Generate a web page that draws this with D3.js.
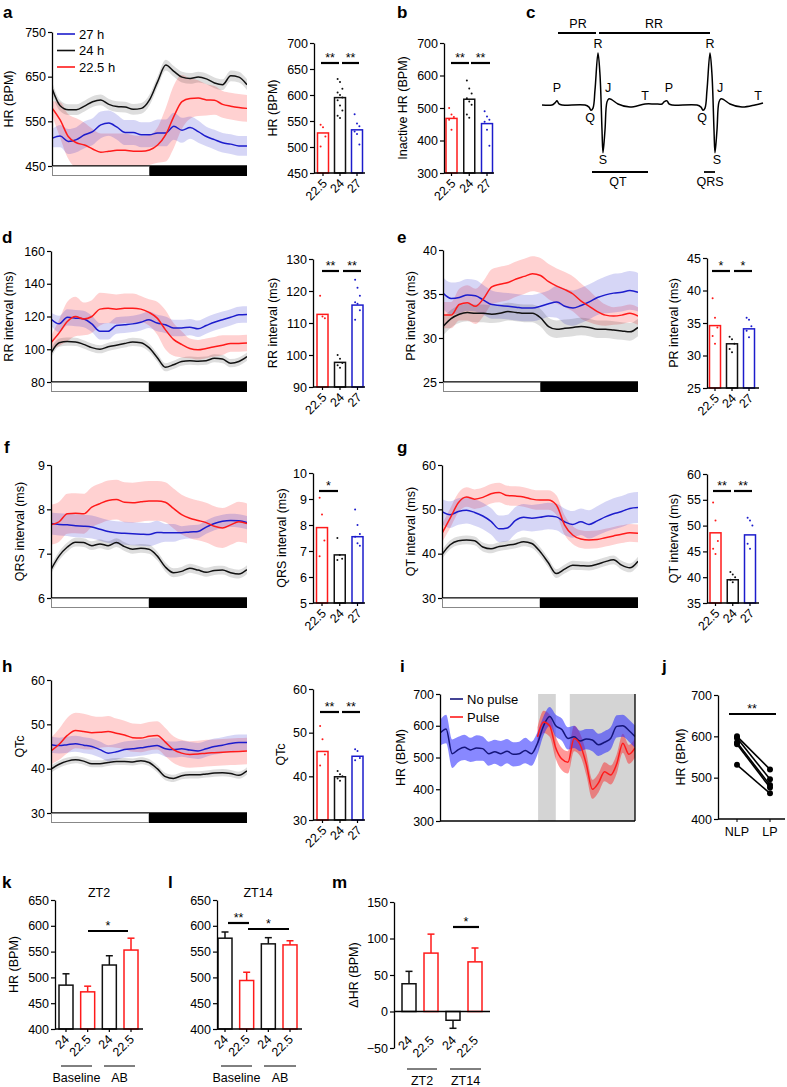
<!DOCTYPE html>
<html><head><meta charset="utf-8">
<script src="https://cdn.jsdelivr.net/npm/d3@7"></script>
<style>body{margin:0;background:#fff}svg text{font-family:"Liberation Sans",Arial,Helvetica,sans-serif}</style>
</head><body>
<svg id="fig" width="787" height="1087"></svg>
<script>
// ---------- DATA ----------
const hours = [0,1,2,3,4,5,6,7,8,9,10,11,12,13,14,15,16,17,18,19,20,21,22,23,24];
const groupLabels = ["22.5","24","27"];
const legendA = ["27 h","24 h","22.5 h"];

// panel a: HR (BPM)
const aRed   = [580,553,516,502,497,488,481,483,485,485,483,483,486,497,520,561,594,601,602,598,597,588,584,581,579];
const aRedSem= [15,40,50,55,50,45,42,40,38,38,36,34,34,40,60,70,60,45,40,35,32,30,30,30,30];
const aBlack = [624,585,576,576,584,594,598,588,583,582,577,579,598,639,676,662,649,646,649,645,636,632,652,649,632];
const aBlackSem=[15,12,12,12,12,12,12,12,12,12,12,12,12,12,12,12,12,12,12,12,12,12,12,12,12];
const aBlue  = [512,517,505,509,520,527,542,546,537,525,525,520,520,524,524,539,530,536,527,516,509,502,499,495,495];
const aBlueSem=[20,25,28,28,30,30,30,28,28,28,28,28,28,30,30,30,28,25,25,22,22,22,22,22,22];
const aBarVals = [527,595,533];
const aBarDots = [[543,538,520,501],[631,625,612,605,600,595,590,580,570,560,556],[563,545,540,530,525,505]];
// panel b: inactive HR
const bBarVals = [468,527,452];
const bBarDots = [[500,480,472,464,433],[585,560,545,530,520,510,480,470],[490,474,464,458,433,384]];
// panel d: RR interval
const dRed   = [104,110,117,120,118.5,120,124.5,125,124.5,125,125,124.5,122.5,119,112,106,103,100.5,99.7,100.5,101.5,102.5,103.5,103.5,103.8];
const dRedSem= [4,8,12,12,10,10,10,9,9,9,9,8,8,10,12,10,8,6,6,6,6,6,5,5,5];
const dBlack = [97.6,104,104.7,104.5,103,101,100,101.5,102.5,103.5,104.5,104,101,95,89,90.5,92.5,93,92.7,93,94.5,94,91.5,92.5,95.5];
const dBlackSem=[3,2.5,2.5,2.5,2.5,2.5,2.5,2.5,2.5,2.5,2.5,2.5,2.5,2.5,2.5,2.5,2.5,2.5,2.5,2.5,2.5,2.5,2.5,2.5,2.5];
const dBlue  = [118.5,115.5,119.5,119,118.5,115.5,111,111,114.5,115,115.5,116.5,118,116,115,113,113,113.5,112.5,114.5,116.5,118,119.5,121,121.2];
const dBlueSem=[4,5,5,5,5,5,5,5,5,5,5,5,5,5,5,5,5,5,5,5,5,5,5,5,5];
const dBarVals = [112.7,97.7,115.6];
const dBarDots = [[118.5,112,111.5],[100,98.8,97.5,96.8,96],[123.5,121,118.5,116.5,116,114,111]];
// panel e: PR interval
const eRed   = [32.6,32.6,33.8,34,33.6,34.5,35.8,36.1,36.3,36.7,37,37.3,37.1,36.4,35.9,35.5,35,34.2,33.6,33,32.6,32.5,32.6,32.8,32.5];
const eRedSem= [1.5,1.5,1.8,2,2,2,2,2,2,2,2,2,2,2,2,2,2,2,1.8,1.5,1.2,1,1,1,1];
const eBlack = [31.3,32.2,32.7,32.9,32.8,32.8,32.7,32.8,33,32.9,32.8,32.8,32.3,31.3,31,31.1,31.2,31.3,31.2,31,31,30.9,30.8,30.7,31.2];
const eBlackSem=[1,1,1,1,1,1,1,1,1,1,1,1,1,1,1,1,1,1,1,1,1,1,1,1,1];
const eBlue  = [35.1,34.5,34.6,34.9,34.8,34.3,33.8,33.7,33.6,33.5,33.4,33.4,33.6,33.9,34.1,33.6,33.4,33.7,34.1,34.6,34.9,35.1,35.2,35.4,35.2];
const eBlueSem=[1.8,1.8,1.8,1.8,1.8,1.7,1.6,1.5,1.5,1.5,1.5,1.5,1.5,1.5,1.8,2,2,2,2,2,2.1,2.2,2.2,2.2,2.2];
const eBarVals = [34.6,31.8,34.1];
const eBarDots = [[38.8,35.8,34.3,33,31.8],[32.9,32.5,31.8,31,30.5],[35.8,35.5,34.5,33.8,32.8]];
// panel f: QRS interval
const fRed   = [7.65,7.72,7.9,7.91,7.9,8.05,8.13,8.2,8.22,8.16,8.15,8.17,8.19,8.19,8.16,8.02,7.88,7.8,7.75,7.7,7.62,7.58,7.65,7.72,7.68];
const fRedSem= [0.45,0.45,0.45,0.45,0.45,0.45,0.45,0.45,0.45,0.45,0.45,0.45,0.45,0.45,0.45,0.45,0.45,0.45,0.45,0.45,0.45,0.45,0.45,0.45,0.45];
const fBlack = [6.64,6.95,7.15,7.26,7.25,7.18,7.22,7.18,7.25,7.16,7.1,7.12,7.1,6.95,6.7,6.57,6.6,6.67,6.63,6.58,6.62,6.63,6.57,6.54,6.64];
const fBlackSem=[0.1,0.1,0.1,0.1,0.1,0.1,0.1,0.1,0.1,0.1,0.1,0.1,0.1,0.1,0.1,0.1,0.1,0.1,0.1,0.1,0.1,0.1,0.1,0.1,0.1];
const fBlue  = [7.68,7.66,7.65,7.63,7.62,7.6,7.55,7.5,7.47,7.46,7.45,7.44,7.43,7.48,7.47,7.47,7.47,7.49,7.5,7.6,7.68,7.73,7.75,7.74,7.7];
const fBlueSem=[0.25,0.25,0.25,0.26,0.26,0.26,0.26,0.26,0.26,0.26,0.26,0.26,0.26,0.26,0.2,0.2,0.15,0.15,0.15,0.15,0.15,0.15,0.15,0.15,0.15];
const fBarVals = [7.9,6.85,7.55];
const fBarDots = [[9.05,8.4,7.4,6.8],[7.5,6.85,6.7,6.65],[8.6,8.0,7.65,7.55,7.3,7.2]];
// panel g: QT interval
const gRed   = [44.6,48,51.5,52.8,52.3,52.7,53.5,53.8,53.1,53,52.8,52.3,52.1,52.1,51,46.5,44.2,43.3,43.1,43.2,43.6,44,44.4,44.7,44.6];
const gRedSem= [2,2.2,2.2,2.2,2.2,2.2,2.2,2.2,2.2,2.2,2.2,2.2,2.2,2.2,2.2,2.2,2,2,2,2,2,2,2,2,2];
const gBlack = [39.8,42,42.9,43.1,42.9,41.5,41.1,41.6,41.9,42.2,42.7,42.3,40.5,38,35.5,36.5,37.4,37.3,37.2,37.6,38.2,38.6,37.4,36.8,38.3];
const gBlackSem=[1,1,1,1,1,1,1,1,1,1,1,1,1,1,1,1,1,1,1,1,1,1,1,1,1];
const gBlue  = [49.5,48.8,49.5,49.8,49.3,48.5,47.3,45.6,45.8,47.5,48.2,48,48.2,48.5,48.3,47.2,46.6,47.2,46.6,47.4,48.3,49,49.5,50.2,50.4];
const gBlueSem=[2.8,3,3,3,3,3,3,3,3,3,3,3,3,3,3,3,3,3,3.2,3.3,3.4,3.5,3.5,3.5,3.5];
const gBarVals = [48.6,39.5,48.2];
const gBarDots = [[54.5,51,47,45.5,44.5],[41,40.5,40,39.5,39],[51.5,51,50,46.5,45.5]];
// panel h: QTc
const hRed   = [44,45.5,47.5,48.6,48.4,48.1,48.2,48.4,48,47.6,47,46.9,47.3,47.5,46,44.3,43.5,43.2,43.3,43.5,43.6,43.7,43.8,43.9,44];
const hRedSem= [3,3.5,4,4,4,3.8,3.5,3.5,3.3,3.2,3.2,3.2,3.2,3.2,3.2,3,3,3,3,3,3,3,3,3,3];
const hBlack = [39.9,41,41.7,42,41.7,41.1,41.1,41.4,41.6,41.6,41.5,41.8,41.4,40,38.2,37.8,38.4,38.6,38.6,38.8,39,39.1,38.9,38.5,39.5];
const hBlackSem=[0.8,0.8,0.8,0.8,0.8,0.8,0.8,0.8,0.8,0.8,0.8,0.8,0.8,0.8,0.8,0.8,0.8,0.8,0.8,0.8,0.8,0.8,0.8,0.8,0.8];
const hBlue  = [45.4,45.2,45.4,45.6,45.3,45,44.3,43.5,43.8,44.3,44.5,44.7,45,45.2,44.5,44.3,44.5,44.2,44,44.5,45,45.3,45.7,45.9,45.9];
const hBlueSem=[1.8,1.8,1.8,1.8,1.8,1.8,1.8,1.8,1.8,1.8,1.8,1.8,1.8,1.8,1.8,1.8,1.8,1.8,1.8,1.8,1.8,1.8,1.8,1.8,1.8];
const hBarVals = [45.7,39.9,44.6];
const hBarDots = [[51.5,48.5,45,42.5],[41.2,40.5,40,39.5,39],[46.2,45.8,44.2,43.7]];
// panel i
const iIdx = [0,1,2,3,4,5,6,7,8,9,10,11,12,13,14,15,16,17,18,19,20,21,22,23,24,25,26,27,28,29,30,31,32];
const iNoPulse = [577,590,512,525,532,524,530,528,512,518,512,520,510,512,522,512,545,600,629,600,588,560,565,552,558,555,540,548,560,598,600,585,566];
const iNoPulseSem = [40,45,45,40,40,38,40,38,38,38,40,38,38,38,40,38,35,30,30,35,35,35,35,32,32,35,35,35,35,35,35,35,35];
const iPulse = [null,null,null,null,null,null,null,null,null,null,null,null,null,null,null,null,565,612,600,530,495,485,560,540,480,400,420,455,445,480,545,510,530];
const iPulseSem = [null,null,null,null,null,null,null,null,null,null,null,null,null,null,null,null,30,35,35,35,35,35,40,35,35,30,30,30,30,30,30,30,30];
const iShade = [[16.1,19],[21.3,32]];
const iLegend = ["No pulse","Pulse"];
// panel j
const jCats = ["NLP","LP"];
const jNLP = [600,596,585,581,531];
const jLP  = [520,496,482,476,462];
// panels k, l, m
const klmLabels = ["24","22.5","24","22.5"];
const kVals = [485,472,524,553]; const kSem = [22,11,18,23];
const lVals = [576,494,565,563]; const lSem = [12,16,12,8];
const mVals = [38,80,-12,68];    const mSem = [17,26,11,19];
// panel c: ECG schematic (time units, amplitude)
const ecgT = [0,10,13,15,17,20,43,47,49,51,53,56,58,60,61,63,65,67,70,76,88,103,113,120,122,125,127,130,155,159,161,163,165,168,170,172,173,175,177,179,182,188,200,213,221];
const ecgV = [0,0,0.04,0.08,0.02,0,0,-0.04,-0.1,-0.06,0.29,1,0.58,-0.48,-0.92,-0.48,0.06,0.12,0.1,0.02,-0.04,0.02,0.02,0.02,0.06,0.08,0.02,0,0,-0.04,-0.1,-0.06,0.29,1,0.58,-0.48,-0.92,-0.48,0.06,0.12,0.1,0.02,-0.04,0,0.04];

// ---------- DRAWING ----------
const RED="#ff1a1a", BLUE="#1c1ccc", BLACK="#111111";
const FS=12.5;
const svg=d3.select("#fig");

function txt(g,x,y,s,opt={}){
  const t=g.append("text").attr("x",x).attr("y",y).text(s).attr("font-size",opt.fs||FS).attr("fill","#000");
  if(opt.anchor) t.attr("text-anchor",opt.anchor);
  if(opt.bold) t.attr("font-weight","bold");
  return t;
}
function vlabel(g,x,y,s){
  g.append("text").attr("transform",`translate(${x},${y}) rotate(-90)`).attr("text-anchor","middle").attr("font-size",FS).text(s);
}
function yAxis(g,scale,x,ticks){
  const a=g.append("g").attr("transform",`translate(${x},0)`)
    .call(d3.axisLeft(scale).tickValues(ticks).tickSize(4).tickSizeOuter(0).tickPadding(2)
      .tickFormat(d=>d<0?"\u2212"+Math.abs(d):d));
  a.attr("font-family",null).attr("font-size",FS);
  a.select(".domain").attr("stroke","#000").attr("stroke-width",1.3);
  a.selectAll(".tick line").attr("stroke","#000").attr("stroke-width",1.2);
  a.selectAll(".tick text").attr("fill","#000");
  return a;
}
function letter(x,y,s){ txt(svg,x,y,s,{fs:17,bold:true}); }

let clipId=0;
function tsPanel(o){
  const g=svg.append("g");
  const x=d3.scaleLinear().domain([o.xs[0],o.xs[o.xs.length-1]]).range([o.x0,o.x1]);
  const y=d3.scaleLinear().domain(o.domain).range([o.yb,o.yt]);
  const id="clip"+(clipId++);
  svg.append("clipPath").attr("id",id).append("rect").attr("x",o.x0).attr("y",o.yt-10).attr("width",o.x1-o.x0).attr("height",o.yb-o.yt+10);
  if(o.shade) o.shade.forEach(r=>g.append("rect").attr("x",x(r[0])).attr("y",o.yt).attr("width",x(r[1])-x(r[0])).attr("height",o.yb-o.yt).attr("fill","#d4d4d4"));
  const pg=g.append("g").attr("clip-path",`url(#${id})`);
  o.series.forEach(s=>{
    const area=d3.area().defined((d,i)=>s.m[i]!=null)
      .x((d,i)=>x(o.xs[i])).y0((d,i)=>y(s.m[i]-s.s[i])).y1((d,i)=>y(s.m[i]+s.s[i])).curve(d3.curveMonotoneX);
    pg.append("path").attr("d",area(o.xs)).attr("fill",s.band||s.c).attr("opacity",s.op||0.2);
  });
  o.series.slice().reverse().forEach(s=>{
    const line=d3.line().defined((d,i)=>s.m[i]!=null).x((d,i)=>x(o.xs[i])).y((d,i)=>y(s.m[i])).curve(d3.curveMonotoneX);
    pg.append("path").attr("d",line(o.xs)).attr("fill","none").attr("stroke",s.lc||s.c).attr("stroke-width",1.5);
  });
  yAxis(g,y,o.x0,o.ticks);
  g.append("line").attr("x1",o.x0).attr("x2",o.x1).attr("y1",o.yb).attr("y2",o.yb).attr("stroke","#000").attr("stroke-width",1.4);
  if(o.dayNight){
    const xm=x((o.xs[0]+o.xs[o.xs.length-1])/2);
    g.append("rect").attr("x",o.x0+0.5).attr("y",o.yb+0.5).attr("width",xm-o.x0-0.5).attr("height",9).attr("fill","#fff").attr("stroke","#888").attr("stroke-width",1);
    g.append("rect").attr("x",xm).attr("y",o.yb).attr("width",o.x1-xm).attr("height",10).attr("fill","#000");
  }
  if(o.rightBorder) g.append("line").attr("x1",o.x1).attr("x2",o.x1).attr("y1",o.yt).attr("y2",o.yb).attr("stroke","#000").attr("stroke-width",1.3);
  vlabel(g,o.lx,(o.yt+o.yb)/2,o.label);
  return g;
}

function sig(g,x1,x2,yy,s){
  g.append("line").attr("x1",x1).attr("x2",x2).attr("y1",yy).attr("y2",yy).attr("stroke","#000").attr("stroke-width",2.2);
}
function sigText(g,x,yy,s){ txt(g,x,yy,s,{anchor:"middle",fs:12.5}); }

function barPanel(o){
  const g=svg.append("g");
  const y=d3.scaleLinear().domain(o.domain).range([o.yb,o.yt]);
  const x=d3.scalePoint().domain(groupLabels).range(o.cx);
  const colors=[RED,BLACK,BLUE];
  o.vals.forEach((v,i)=>{
    const cx=x(groupLabels[i]);
    g.append("rect").attr("x",cx-o.w/2).attr("y",y(v)).attr("width",o.w).attr("height",o.yb-y(v))
      .attr("fill","#fff").attr("stroke",colors[i]).attr("stroke-width",1.5);
    o.dots[i].forEach((d,j)=>g.append("circle").attr("cx",cx+((j%3)-1)*2.4).attr("cy",y(d)).attr("r",1).attr("fill",colors[i]));
  });
  yAxis(g,y,o.ax,o.ticks);
  g.append("line").attr("x1",o.ax).attr("x2",o.axEnd).attr("y1",o.yb).attr("y2",o.yb).attr("stroke","#000").attr("stroke-width",1.3);
  groupLabels.forEach(c=>{
    const cx=x(c);
    g.append("line").attr("x1",cx).attr("x2",cx).attr("y1",o.yb).attr("y2",o.yb+3).attr("stroke","#000").attr("stroke-width",1.2);
    g.append("text").attr("transform",`translate(${cx+5},${o.yb+11}) rotate(-45)`).attr("text-anchor","end").attr("font-size",FS).text(c);
  });
  o.sig.forEach(s=>{ sig(g,s[0],s[1],o.sigY); sigText(g,(s[0]+s[1])/2,o.sigY-1,s[2]); });
  vlabel(g,o.lx,(o.yt+o.yb)/2,o.label);
}

// a
letter(3,18,"a");
const ga=tsPanel({xs:hours,x0:52,x1:247,yt:32,yb:166,domain:[450,750],ticks:[450,550,650,750],label:"HR (BPM)",lx:13,dayNight:true,
  series:[{m:aRed,s:aRedSem,c:RED},{m:aBlue,s:aBlueSem,c:BLUE,op:0.18},{m:aBlack,s:aBlackSem,c:BLACK,op:0.14}]});
[BLUE,BLACK,RED].forEach((c,i)=>{
  const yy=34+i*16.5;
  ga.append("line").attr("x1",57).attr("x2",75).attr("y1",yy).attr("y2",yy).attr("stroke",c).attr("stroke-width",1.6);
  txt(ga,79,yy+4.5,legendA[i],{fs:13});
});
barPanel({ax:314,axEnd:365,yb:173,yt:43,domain:[450,700],ticks:[450,500,550,600,650,700],cx:[323,357],w:11,
  vals:aBarVals,dots:aBarDots,sigY:63,sig:[[321,339,"**"],[342,359,"**"]],label:"HR (BPM)",lx:277});
// b
letter(397,18,"b");
barPanel({ax:444,axEnd:494,yb:173,yt:43,domain:[300,700],ticks:[300,400,500,600,700],cx:[451.5,487],w:11,
  vals:bBarVals,dots:bBarDots,sigY:63,sig:[[451,469,"**"],[471,490,"**"]],label:"Inactive HR (BPM)",lx:407});
// c
letter(526,18,"c");
{
  const g=svg.append("g");
  const ex=d3.scaleLinear().domain([0,221]).range([542,763]);
  const ey=d3.scaleLinear().domain([0,1]).range([105,53]);
  const line=d3.line().x((d,i)=>ex(ecgT[i])).y((d,i)=>ey(ecgV[i])).curve(d3.curveCatmullRom.alpha(0.5));
  g.append("path").attr("d",line(ecgT)).attr("fill","none").attr("stroke","#000").attr("stroke-width",1.5);
  const seg=(a,b,yy)=>g.append("line").attr("x1",ex(a)).attr("x2",ex(b)).attr("y1",yy).attr("y2",yy).attr("stroke","#000").attr("stroke-width",1.8);
  seg(16,54,33); seg(57,168,33); seg(50,106,172); seg(162,173,172);
  txt(g,ex(36),28,"PR",{anchor:"middle"}); txt(g,ex(112),28,"RR",{anchor:"middle"});
  [[56,48,"R"],[15,92,"P"],[66,92,"J"],[103,100,"T"],[48,122,"Q"],[61,164,"S"],
   [168,48,"R"],[127,92,"P"],[178,92,"J"],[216,100,"T"],[160,122,"Q"],[175,164,"S"]].forEach(d=>txt(g,ex(d[0]),d[1],d[2],{anchor:"middle"}));
  txt(g,ex(76),186,"QT",{anchor:"middle"}); txt(g,ex(168),186,"QRS",{anchor:"middle"});
}
// d
letter(2,243,"d");
tsPanel({xs:hours,x0:51,x1:247,yt:251,yb:382,domain:[80,160],ticks:[80,100,120,140,160],label:"RR interval (ms)",lx:13,dayNight:true,
  series:[{m:dRed,s:dRedSem,c:RED},{m:dBlue,s:dBlueSem,c:BLUE,op:0.18},{m:dBlack,s:dBlackSem,c:BLACK,op:0.14}]});
barPanel({ax:313,axEnd:365,yb:387,yt:259,domain:[90,130],ticks:[90,100,110,120,130],cx:[322.5,357.5],w:11,
  vals:dBarVals,dots:dBarDots,sigY:271,sig:[[322,339,"**"],[343,361,"**"]],label:"RR interval (ms)",lx:277});
// e
letter(397,243,"e");
tsPanel({xs:hours,x0:443,x1:638,yt:250,yb:382,domain:[25,40],ticks:[25,30,35,40],label:"PR interval (ms)",lx:415,dayNight:true,
  series:[{m:eRed,s:eRedSem,c:RED},{m:eBlue,s:eBlueSem,c:BLUE,op:0.18},{m:eBlack,s:eBlackSem,c:BLACK,op:0.14}]});
barPanel({ax:707,axEnd:759,yb:388,yt:258,domain:[25,45],ticks:[25,30,35,40,45],cx:[715,749],w:11,
  vals:eBarVals,dots:eBarDots,sigY:271,sig:[[712,730,"*"],[734,752,"*"]],label:"PR interval (ms)",lx:678});
// f
letter(4,453,"f");
tsPanel({xs:hours,x0:51,x1:247,yt:465,yb:598,domain:[6,9],ticks:[6,7,8,9],label:"QRS interval (ms)",lx:24,dayNight:true,
  series:[{m:fRed,s:fRedSem,c:RED},{m:fBlue,s:fBlueSem,c:BLUE,op:0.18},{m:fBlack,s:fBlackSem,c:BLACK,op:0.14}]});
barPanel({ax:313,axEnd:365,yb:603,yt:473,domain:[5,10],ticks:[5,6,7,8,9,10],cx:[322,357.5],w:11,
  vals:fBarVals,dots:fBarDots,sigY:491,sig:[[319,338,"*"]],label:"QRS interval (ms)",lx:286});
// g
letter(397,453,"g");
tsPanel({xs:hours,x0:442,x1:638,yt:465,yb:598,domain:[30,60],ticks:[30,40,50,60],label:"QT interval (ms)",lx:415,dayNight:true,
  series:[{m:gRed,s:gRedSem,c:RED},{m:gBlue,s:gBlueSem,c:BLUE,op:0.18},{m:gBlack,s:gBlackSem,c:BLACK,op:0.14}]});
barPanel({ax:707,axEnd:759,yb:603,yt:474,domain:[35,60],ticks:[35,40,45,50,55,60],cx:[715.5,750],w:11,
  vals:gBarVals,dots:gBarDots,sigY:491,sig:[[713,731,"**"],[734,752,"**"]],label:"QT interval (ms)",lx:678});
// h
letter(2,672,"h");
tsPanel({xs:hours,x0:51,x1:247,yt:680,yb:813,domain:[30,60],ticks:[30,40,50,60],label:"QTc",lx:24,dayNight:true,
  series:[{m:hRed,s:hRedSem,c:RED},{m:hBlue,s:hBlueSem,c:BLUE,op:0.18},{m:hBlack,s:hBlackSem,c:BLACK,op:0.14}]});
barPanel({ax:313,axEnd:365,yb:820,yt:689,domain:[30,60],ticks:[30,40,50,60],cx:[322.5,357.5],w:11,
  vals:hBarVals,dots:hBarDots,sigY:712,sig:[[320,339,"**"],[342,360,"**"]],label:"QTc",lx:285});
// i
letter(400,672,"i");
const gi=tsPanel({xs:iIdx,x0:440,x1:635,yt:694,yb:821,domain:[300,700],ticks:[300,400,500,600,700],label:"HR (BPM)",lx:405,rightBorder:true,shade:iShade,
  series:[{m:iPulse,s:iPulseSem,c:RED,op:0.45},{m:iNoPulse,s:iNoPulseSem,c:"#2626ff",op:0.55,lc:"#15157a"}]});
[["#15157a",699],[RED,717]].forEach((d,i)=>{
  gi.append("line").attr("x1",450).attr("x2",463).attr("y1",d[1]).attr("y2",d[1]).attr("stroke",d[0]).attr("stroke-width",1.6);
  txt(gi,467,d[1]+4.5,iLegend[i],{fs:13});
});
// j
letter(662,672,"j");
{
  const g=svg.append("g");
  const y=d3.scaleLinear().domain([400,700]).range([819,695]);
  const x=d3.scalePoint().domain(jCats).range([737,770]);
  jNLP.forEach((v,i)=>{
    g.append("line").attr("x1",x("NLP")).attr("x2",x("LP")).attr("y1",y(v)).attr("y2",y(jLP[i])).attr("stroke","#000").attr("stroke-width",1.6);
    g.append("circle").attr("cx",x("NLP")).attr("cy",y(v)).attr("r",3).attr("fill","#000");
    g.append("circle").attr("cx",x("LP")).attr("cy",y(jLP[i])).attr("r",3).attr("fill","#000");
  });
  yAxis(g,y,718,[400,500,600,700]);
  g.append("line").attr("x1",718).attr("x2",785).attr("y1",819).attr("y2",819).attr("stroke","#000").attr("stroke-width",1.3);
  jCats.forEach(c=>{
    g.append("line").attr("x1",x(c)).attr("x2",x(c)).attr("y1",819).attr("y2",822).attr("stroke","#000");
    txt(g,x(c),836,c,{anchor:"middle"});
  });
  sig(g,729,776,714); sigText(g,752,713,"**");
  vlabel(g,685,757,"HR (BPM)");
}
// k, l, m
function klm(o){
  const g=svg.append("g");
  const y=d3.scaleLinear().domain(o.domain).range([o.yb,o.yt]);
  const x=d3.scalePoint().domain([0,1,2,3]).range(o.cx);
  const colors=[BLACK,RED,BLACK,RED];
  const base=o.base;
  o.vals.forEach((v,i)=>{
    const cx=x(i), c=colors[i];
    const top=Math.min(y(v),y(base)), h=Math.abs(y(v)-y(base));
    const ev=v>=0?v+o.sem[i]:v-o.sem[i];
    g.append("line").attr("x1",cx).attr("x2",cx).attr("y1",y(v)).attr("y2",y(ev)).attr("stroke",c).attr("stroke-width",1.5);
    g.append("line").attr("x1",cx-3.5).attr("x2",cx+3.5).attr("y1",y(ev)).attr("y2",y(ev)).attr("stroke",c).attr("stroke-width",1.5);
    g.append("rect").attr("x",cx-7).attr("y",top).attr("width",14).attr("height",h).attr("fill","#fff").attr("stroke",c).attr("stroke-width",1.5);
  });
  yAxis(g,y,o.ax,o.ticks);
  g.append("line").attr("x1",o.ax).attr("x2",o.axEnd).attr("y1",y(base)).attr("y2",y(base)).attr("stroke","#000").attr("stroke-width",1.3);
  [0,1,2,3].forEach(i=>{
    if(o.xticks) g.append("line").attr("x1",x(i)).attr("x2",x(i)).attr("y1",o.yb).attr("y2",o.yb+3).attr("stroke","#000").attr("stroke-width",1.2);
    g.append("text").attr("transform",`translate(${x(i)+4},${o.ly}) rotate(-45)`).attr("text-anchor","end").attr("font-size",FS).text(klmLabels[i]);
  });
  o.groups.forEach(gr=>{
    g.append("line").attr("x1",gr[0]).attr("x2",gr[1]).attr("y1",o.gy).attr("y2",o.gy).attr("stroke","#000").attr("stroke-width",1);
    txt(g,(gr[0]+gr[1])/2+(gr[3]||0),o.gy+16,gr[2],{anchor:"middle"});
  });
  o.sig.forEach(s=>{ sig(g,s[0],s[1],s[2]); sigText(g,(s[0]+s[1])/2,s[2]-1,s[3]); });
  if(o.title) txt(g,o.title[0],897,o.title[1],{anchor:"middle"});
  if(o.label) vlabel(g,o.lx,(o.yt+o.yb)/2,o.label);
}
letter(2,888,"k");
klm({ax:55,axEnd:143,yb:1029,yt:900,domain:[400,650],ticks:[400,450,500,550,600,650],base:400,cx:[66,131],vals:kVals,sem:kSem,xticks:true,ly:1040,
  gy:1066,groups:[[61,92,"Baseline"],[104,135,"AB"]],sig:[[88,128,931,"*"]],title:[99,"ZT2"],label:"HR (BPM)",lx:18});
letter(168,888,"l");
klm({ax:217,axEnd:302,yb:1029,yt:900,domain:[400,650],ticks:[400,450,500,550,600,650],base:400,cx:[225,290],vals:lVals,sem:lSem,xticks:true,ly:1040,
  gy:1066,groups:[[221,252,"Baseline"],[264,296,"AB"]],sig:[[228,249,923,"**"],[248,289,929,"*"]],title:[258,"ZT14"]});
letter(332,888,"m");
klm({ax:394,axEnd:490,yb:1048,yt:902,domain:[-50,150],ticks:[-50,0,50,100,150],base:0,cx:[409,475],vals:mVals,sem:mSem,xticks:false,ly:1041,
  gy:1069,groups:[[407,437,"ZT2"],[450,481,"ZT14"]],sig:[[453,479,927,"*"]],label:"\u0394HR (BPM)",lx:358});
</script>
</body></html>
